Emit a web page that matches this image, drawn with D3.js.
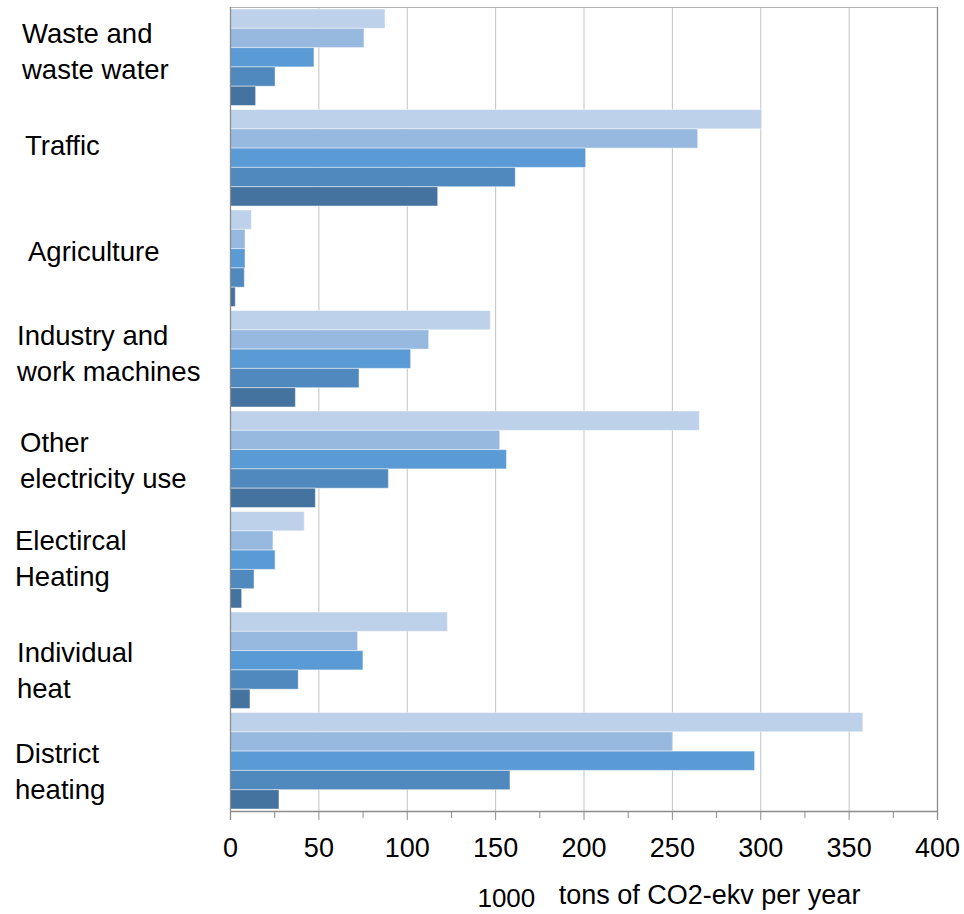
<!DOCTYPE html>
<html>
<head>
<meta charset="utf-8">
<script src="https://cdn.jsdelivr.net/npm/d3@7"></script>
<style>
  html, body { margin: 0; padding: 0; background: #fff; }
  svg text { font-family: "Liberation Sans", Arial, sans-serif; fill: #000; }
</style>
</head>
<body>
<svg id="chart" width="964" height="914"></svg>
<script>
// Emission sources, top to bottom
const categories = [
  "Waste and\nwaste water",
  "Traffic",
  "Agriculture",
  "Industry and\nwork machines",
  "Other\nelectricity use",
  "Electircal\nHeating",
  "Individual\nheat",
  "District\nheating"
];

// Five series per category, lightest first (1000 tons CO2-ekv per year)
const series1 = [87.7, 300.8, 12.1, 147.3, 265.5, 42.0, 123.0, 358.0];
const series2 = [75.8, 264.6, 8.5, 112.4, 152.6, 24.3, 72.2, 250.3];
const series3 = [47.5, 201.2, 8.5, 102.2, 156.4, 25.5, 75.2, 296.8];
const series4 = [25.5, 161.4, 8.1, 73.0, 89.6, 13.6, 38.6, 158.4];
const series5 = [14.5, 117.5, 3.0, 37.0, 48.3, 6.6, 11.3, 27.7];
const seriesNames = ["s1", "s2", "s3", "s4", "s5"];
const seriesValues = [series1, series2, series3, series4, series5];

const xTicks = [0, 50, 100, 150, 200, 250, 300, 350, 400];
const xMinorTicks = [25, 75, 125, 175, 225, 275, 325, 375];
const axisUnit = "1000";
const axisTitle = "tons of CO2-ekv per year";

// Layout
const colors = ["#bdd2ea", "#98b9df", "#5b9bd5", "#4f89bd", "#44739f"];
const plot = { left: 230, right: 937, top: 7, bottom: 811 };
const labelNudge = [
  { dx: -208, dy: -6 }, { dx: -205, dy: -13 }, { dx: -202, dy: -7 }, { dx: -213, dy: -6 },
  { dx: -210, dy: 1 }, { dx: -215, dy: -2 }, { dx: -213, dy: 10 }, { dx: -215, dy: 10 }
];

const svg = d3.select("#chart");

const x = d3.scaleLinear().domain([0, 400]).range([plot.left, plot.right]);
const y = d3.scaleBand().domain(d3.range(categories.length))
  .range([plot.top, plot.bottom]).paddingInner(0.04).paddingOuter(0.02);
const ySub = d3.scaleBand().domain(d3.range(seriesNames.length)).range([0, y.bandwidth()]);

// Vertical gridlines
svg.append("g").selectAll("line")
  .data(xTicks.filter(d => d > 0 && d < 400))
  .join("line")
  .attr("x1", d => x(d) + 0.5).attr("x2", d => x(d) + 0.5)
  .attr("y1", plot.top).attr("y2", plot.bottom)
  .attr("stroke", "#c3c3c3").attr("stroke-width", 1);

// Plot frame: top and right edges
svg.append("line")
  .attr("x1", plot.left).attr("x2", plot.right)
  .attr("y1", plot.top + 0.5).attr("y2", plot.top + 0.5)
  .attr("stroke", "#b4b4b4");
svg.append("line")
  .attr("x1", x(400) + 0.5).attr("x2", x(400) + 0.5)
  .attr("y1", plot.top).attr("y2", plot.bottom)
  .attr("stroke", "#8c8c8c").attr("stroke-width", 1.3);

// Bars
const rows = categories.map((c, i) => ({ i, vals: seriesValues.map(s => s[i]) }));
const groups = svg.append("g").selectAll("g")
  .data(rows).join("g")
  .attr("transform", d => `translate(0,${y(d.i)})`);
groups.selectAll("rect")
  .data(d => d.vals.map((v, k) => ({ v, k })))
  .join("rect")
  .attr("x", x(0))
  .attr("y", d => ySub(d.k))
  .attr("width", d => x(d.v) - x(0))
  .attr("height", ySub.bandwidth())
  .attr("fill", d => colors[d.k])
  .attr("stroke", "rgba(255,255,255,0.45)")
  .attr("stroke-width", 1);

// Left axis line
svg.append("line")
  .attr("x1", x(0) + 0.5).attr("x2", x(0) + 0.5)
  .attr("y1", plot.top).attr("y2", plot.bottom)
  .attr("stroke", "#8c8c8c").attr("stroke-width", 1.3);

// Bottom axis with major and minor ticks
const xAxis = d3.axisBottom(x).tickValues(xTicks).tickSize(9).tickPadding(18)
  .tickFormat(d3.format("d"));
const axG = svg.append("g").attr("transform", `translate(0,${plot.bottom})`).call(xAxis);
axG.select(".domain").attr("stroke", "#8c8c8c").attr("stroke-width", 1.3);
axG.selectAll(".tick line").attr("stroke", "#8c8c8c");
axG.selectAll(".tick text")
  .attr("font-family", "Liberation Sans, Arial, sans-serif")
  .attr("font-size", 27).attr("fill", "#000");
svg.append("g").attr("transform", `translate(0,${plot.bottom})`)
  .selectAll("line").data(xMinorTicks).join("line")
  .attr("x1", d => x(d) + 0.5).attr("x2", d => x(d) + 0.5)
  .attr("y1", 0).attr("y2", 7)
  .attr("stroke", "#8c8c8c");

// Category labels (two lines where the name wraps)
const lineH = 36;
svg.append("g").selectAll("text")
  .data(categories.map((c, i) => ({ lines: c.split("\n"), i })))
  .join("text")
  .attr("font-size", 27.5)
  .each(function (d) {
    const n = d.lines.length;
    const cy = y(d.i) + y.bandwidth() / 2 + labelNudge[d.i].dy;
    const firstBase = cy - (n - 1) * lineH / 2 + 10;
    d3.select(this).selectAll("tspan").data(d.lines).join("tspan")
      .attr("x", plot.left + labelNudge[d.i].dx)
      .attr("y", (t, j) => firstBase + j * lineH)
      .text(t => t);
  });

// Axis title
svg.append("text")
  .attr("x", x(140)).attr("y", 907)
  .attr("font-size", 26)
  .text(axisUnit);
svg.append("text")
  .attr("x", x(186)).attr("y", 904)
  .attr("font-size", 27)
  .text(axisTitle);
</script>
</body>
</html>
